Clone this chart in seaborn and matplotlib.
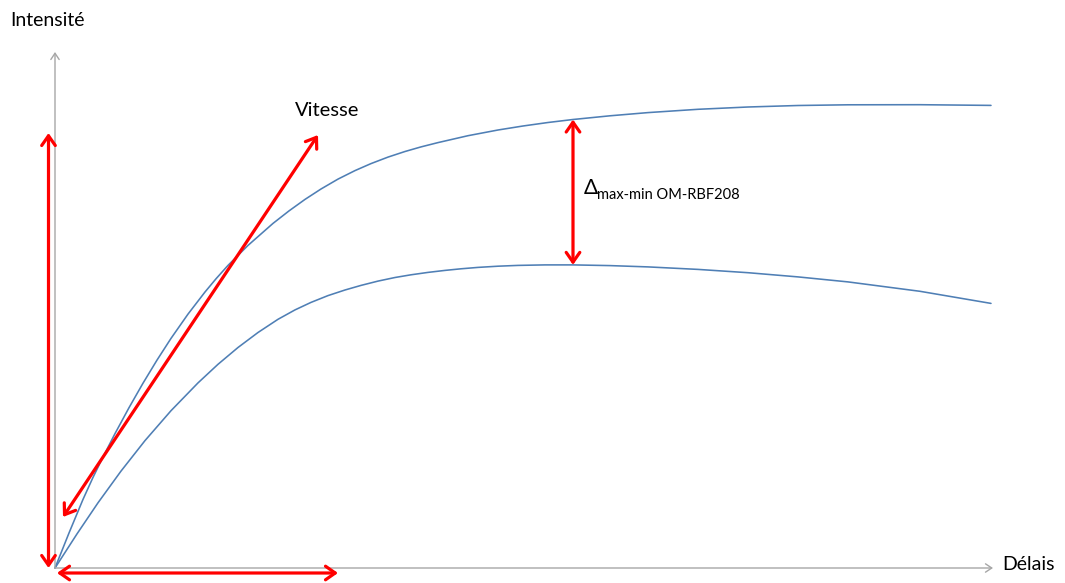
import numpy as np
import pandas as pd
import matplotlib
matplotlib.use("Agg")
import matplotlib.pyplot as plt
import seaborn as sns

# ------------------------------------------------------
# Data (schematic curves)
# ------------------------------------------------------
delais_haut = [0, 14, 28, 38, 48, 60, 74, 88, 102, 116, 133, 150, 161, 173, 193,
               218, 234, 250, 266, 283, 300, 316, 333, 350, 366, 383, 413, 443,
               468, 493, 518, 555, 593, 643, 693, 743, 793, 865, 936]
intens_haut = [0, 35, 68.6, 90.6, 111, 134.4, 160.3, 184.8, 207.9, 229.6, 253.9,
               276, 289.2, 302.6, 322.6, 344.6, 357.1, 368.6, 379, 388.9, 397.4,
               404.4, 410.9, 416.5, 421.1, 425.4, 432.3, 438, 442, 445.5, 448.5,
               452.2, 455.4, 458.7, 461, 462.5, 463.2, 463.3, 462.6]

delais_bas = [0, 22, 43, 66, 90, 116, 143, 163, 183, 203, 223, 240, 256, 273, 290,
              306, 323, 340, 356, 373, 390, 406, 423, 443, 463, 490, 518, 555, 593,
              643, 693, 743, 793, 865, 936]
intens_bas = [0, 34.1, 65.2, 96.9, 127.4, 157.3, 185.1, 203.7, 220.5, 235.5, 248.7,
              258.1, 265.6, 272.4, 278, 282.6, 286.9, 290.5, 293.2, 295.6, 297.6,
              299.2, 300.6, 301.8, 302.6, 303.1, 303.1, 302.4, 301.1, 298.6, 295.3,
              291.1, 286.1, 276.7, 264.6]

x_delta = 518          # position of the max-min gap arrow
vitesse_start = (8, 51)
vitesse_end = (263, 433)
intens_arrow = (-6.5, 0, 435)   # x, y bottom, y top
delais_arrow = (-5, 2, 283)     # y, x left, x right
axis_x_end = 938
axis_y_end = 516

label_y = "Intensité"
label_x = "Délais"
label_vitesse = "Vitesse"
label_delta = "Δ"
label_delta_sub = "max-min OM-RBF208"

# ------------------------------------------------------
# Style
# ------------------------------------------------------
sns.set_style("white")
plt.rcParams["font.family"] = ["Lato", "DejaVu Sans"]

BLUE = "#4F7FB5"
RED = "#FF0000"
GREY = "#A6A6A6"

fig = plt.figure(figsize=(10.65, 5.83), dpi=100)
ax = fig.add_axes([0, 0, 1, 1])
ax.set_xlim(-55, 1010)
ax.set_ylim(-15, 568)
ax.axis("off")

# axes (grey arrows)
grey_arrow = dict(arrowstyle="->,head_length=0.45,head_width=0.3", mutation_scale=10,
                  lw=1.0, color=GREY, shrinkA=0, shrinkB=0)
ax.annotate("", xy=(axis_x_end, 0), xytext=(0, 0), arrowprops=grey_arrow)
ax.annotate("", xy=(0, axis_y_end), xytext=(0, 0), arrowprops=grey_arrow)

# curves
df = pd.concat([
    pd.DataFrame({"delais": delais_haut, "intensite": intens_haut, "serie": "haut"}),
    pd.DataFrame({"delais": delais_bas, "intensite": intens_bas, "serie": "bas"}),
])
sns.lineplot(data=df, x="delais", y="intensite", units="serie", estimator=None,
             sort=False, color=BLUE, lw=1.15, ax=ax, legend=False,
             solid_joinstyle="round")

# red double arrows
red_arrow = dict(arrowstyle="<->,head_length=0.5,head_width=0.35", mutation_scale=14,
                 lw=2.3, color=RED, shrinkA=0, shrinkB=0)
xv, yb, yt = intens_arrow
ax.annotate("", xy=(xv, yt), xytext=(xv, yb), arrowprops=red_arrow)
yh, xl, xr = delais_arrow
ax.annotate("", xy=(xr, yh), xytext=(xl, yh), arrowprops=red_arrow)
ax.annotate("", xy=vitesse_end, xytext=vitesse_start, arrowprops=red_arrow)

i_hi = delais_haut.index(x_delta)
i_lo = delais_bas.index(x_delta)
ax.annotate("", xy=(x_delta, intens_haut[i_hi]), xytext=(x_delta, intens_bas[i_lo]),
            arrowprops=red_arrow)

# labels
ax.text(-45, 548, label_y, fontsize=14, ha="left", va="center", color="black")
ax.text(947, 3, label_x, fontsize=14, ha="left", va="center", color="black")
ax.text(272, 458, label_vitesse, fontsize=14.5, ha="center", va="center", color="black")
ax.text(529, 374, label_delta, fontsize=15, ha="left", va="baseline", color="black")
ax.text(542, 369, label_delta_sub, fontsize=10.5, ha="left", va="baseline", color="black")

fig.savefig("out.png", dpi=100)
